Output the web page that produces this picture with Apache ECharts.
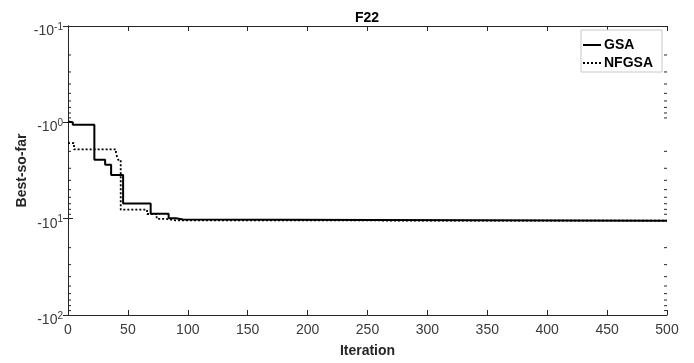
<!DOCTYPE html>
<html>
<head>
<meta charset="utf-8">
<script src="https://cdn.jsdelivr.net/npm/echarts@6/dist/echarts.min.js"></script>
<style>html,body{margin:0;padding:0;background:#fff;}#c{width:694px;height:363px;}</style>
</head>
<body>
<div id="c"></div>
<script>
// Iteration at which the best-so-far value changes, and the magnitude (values are negative)
var gsaIter = [0, 1, 4, 22, 31, 36, 46, 69, 84, 90, 96, 500];
var gsaVal  = [0.98, 1.0, 1.06, 2.45, 2.76, 3.52, 6.94, 8.9, 9.9, 10.2, 10.5, 10.5];
var nfgsaIter = [0, 5, 40, 41, 42, 44, 66, 74, 82, 90, 500];
var nfgsaVal  = [1.64, 1.91, 2.05, 2.3, 2.45, 8.07, 8.94, 10.05, 10.4, 10.5, 10.5];
var xTicks = [0, 50, 100, 150, 200, 250, 300, 350, 400, 450, 500];
var yMinorTicks = [0.2,0.3,0.4,0.5,0.6,0.7,0.8,0.9,2,3,4,5,6,7,8,9,20,30,40,50,60,70,80,90];

var axisColor = '#262626';
var labelColor = '#3a3a3a';
var font = 'Liberation Sans, Arial, Helvetica, sans-serif';

function pairs(xs, ys) { return xs.map(function (x, i) { return [x, ys[i]]; }); }

var chart = echarts.init(document.getElementById('c'));
chart.setOption({
  animation: false,
  backgroundColor: '#fff',
  title: {
    text: 'F22', left: 367, top: 11, textAlign: 'center', padding: 0,
    textStyle: { fontFamily: font, fontSize: 14, fontWeight: 'bold', color: '#000' }
  },
  grid: { left: 68, right: 27, top: 26, bottom: 48 },
  legend: {
    data: ['GSA', 'NFGSA'],
    orient: 'vertical', left: 581, top: 30,
    itemWidth: 18, itemHeight: 12, itemGap: 4,
    padding: [8, 9, 2, 1],
    borderColor: '#c8c8c8', borderWidth: 1, backgroundColor: '#fff',
    itemStyle: { opacity: 0 },
    textStyle: { fontFamily: font, fontSize: 14, fontWeight: 'bold', color: '#000', padding: [0, 0, 0, -2] }
  },
  xAxis: [{
    type: 'value', min: 0, max: 500, interval: 50,
    name: 'Iteration', nameLocation: 'middle', nameGap: 29, nameMoveOverlap: false,
    nameTextStyle: { fontFamily: font, fontSize: 14, fontWeight: 'bold', color: '#262626' },
    axisLine: { lineStyle: { color: axisColor, width: 1 } },
    axisTick: { inside: true, length: 5, lineStyle: { color: axisColor } },
    axisLabel: { fontFamily: font, fontSize: 14, color: labelColor, margin: 8 },
    splitLine: { show: false }
  }, {
    type: 'value', min: 0, max: 500, interval: 50, position: 'top',
    axisLine: { lineStyle: { color: axisColor, width: 1 } },
    axisTick: { inside: true, length: 5, lineStyle: { color: axisColor } },
    axisLabel: { show: false }, splitLine: { show: false }
  }],
  yAxis: [{
    type: 'log', logBase: 10, min: 0.1, max: 100, inverse: true,
    name: 'Best-so-far', nameLocation: 'middle', nameGap: 39, nameMoveOverlap: false,
    nameTextStyle: { fontFamily: font, fontSize: 14, fontWeight: 'bold', color: '#262626' },
    axisLine: { lineStyle: { color: axisColor, width: 1 } },
    axisTick: { inside: true, length: 5, lineStyle: { color: axisColor } },
    axisLabel: {
      margin: 5, color: labelColor,
      formatter: function (v) {
        var e = Math.round(Math.log10(v));
        return '{b|-10}{s|' + e + '}';
      },
      rich: {
        b: { fontFamily: font, fontSize: 14, color: labelColor, verticalAlign: 'bottom', lineHeight: 24 },
        s: { fontFamily: font, fontSize: 10, color: labelColor, verticalAlign: 'top', padding: [8, 0, 0, 0] }
      }
    },
    splitLine: { show: false }
  }, {
    type: 'log', logBase: 10, min: 0.1, max: 100, inverse: true, position: 'right',
    axisLine: { lineStyle: { color: axisColor, width: 1 } },
    axisTick: { inside: true, length: 5, lineStyle: { color: axisColor } },
    axisLabel: { show: false }, splitLine: { show: false }
  }],
  series: [{
    name: 'GSA', type: 'line', step: 'end', showSymbol: false, symbol: 'none',
    data: pairs(gsaIter, gsaVal),
    lineStyle: { color: '#000', width: 2, type: 'solid' },
    itemStyle: { color: '#000' }, z: 3
  }, {
    name: 'NFGSA', type: 'line', step: 'end', showSymbol: false, symbol: 'none',
    data: pairs(nfgsaIter, nfgsaVal),
    lineStyle: { color: '#000', width: 1.8, type: [2, 2] },
    itemStyle: { color: '#000' }, z: 4
  }, {
    name: 'minorTicks', type: 'custom', silent: true, z: 5,
    data: yMinorTicks.map(function (v) { return [0, v]; }),
    renderItem: function (params, api) {
      var cs = params.coordSys;
      var y = api.coord([0, api.value(1)])[1];
      var st = { stroke: axisColor, lineWidth: 1 };
      return {
        type: 'group', children: [
          { type: 'line', shape: { x1: cs.x, y1: y, x2: cs.x + 3, y2: y }, style: st },
          { type: 'line', shape: { x1: cs.x + cs.width - 3, y1: y, x2: cs.x + cs.width, y2: y }, style: st }
        ]
      };
    }
  }]
});
</script>
</body>
</html>
